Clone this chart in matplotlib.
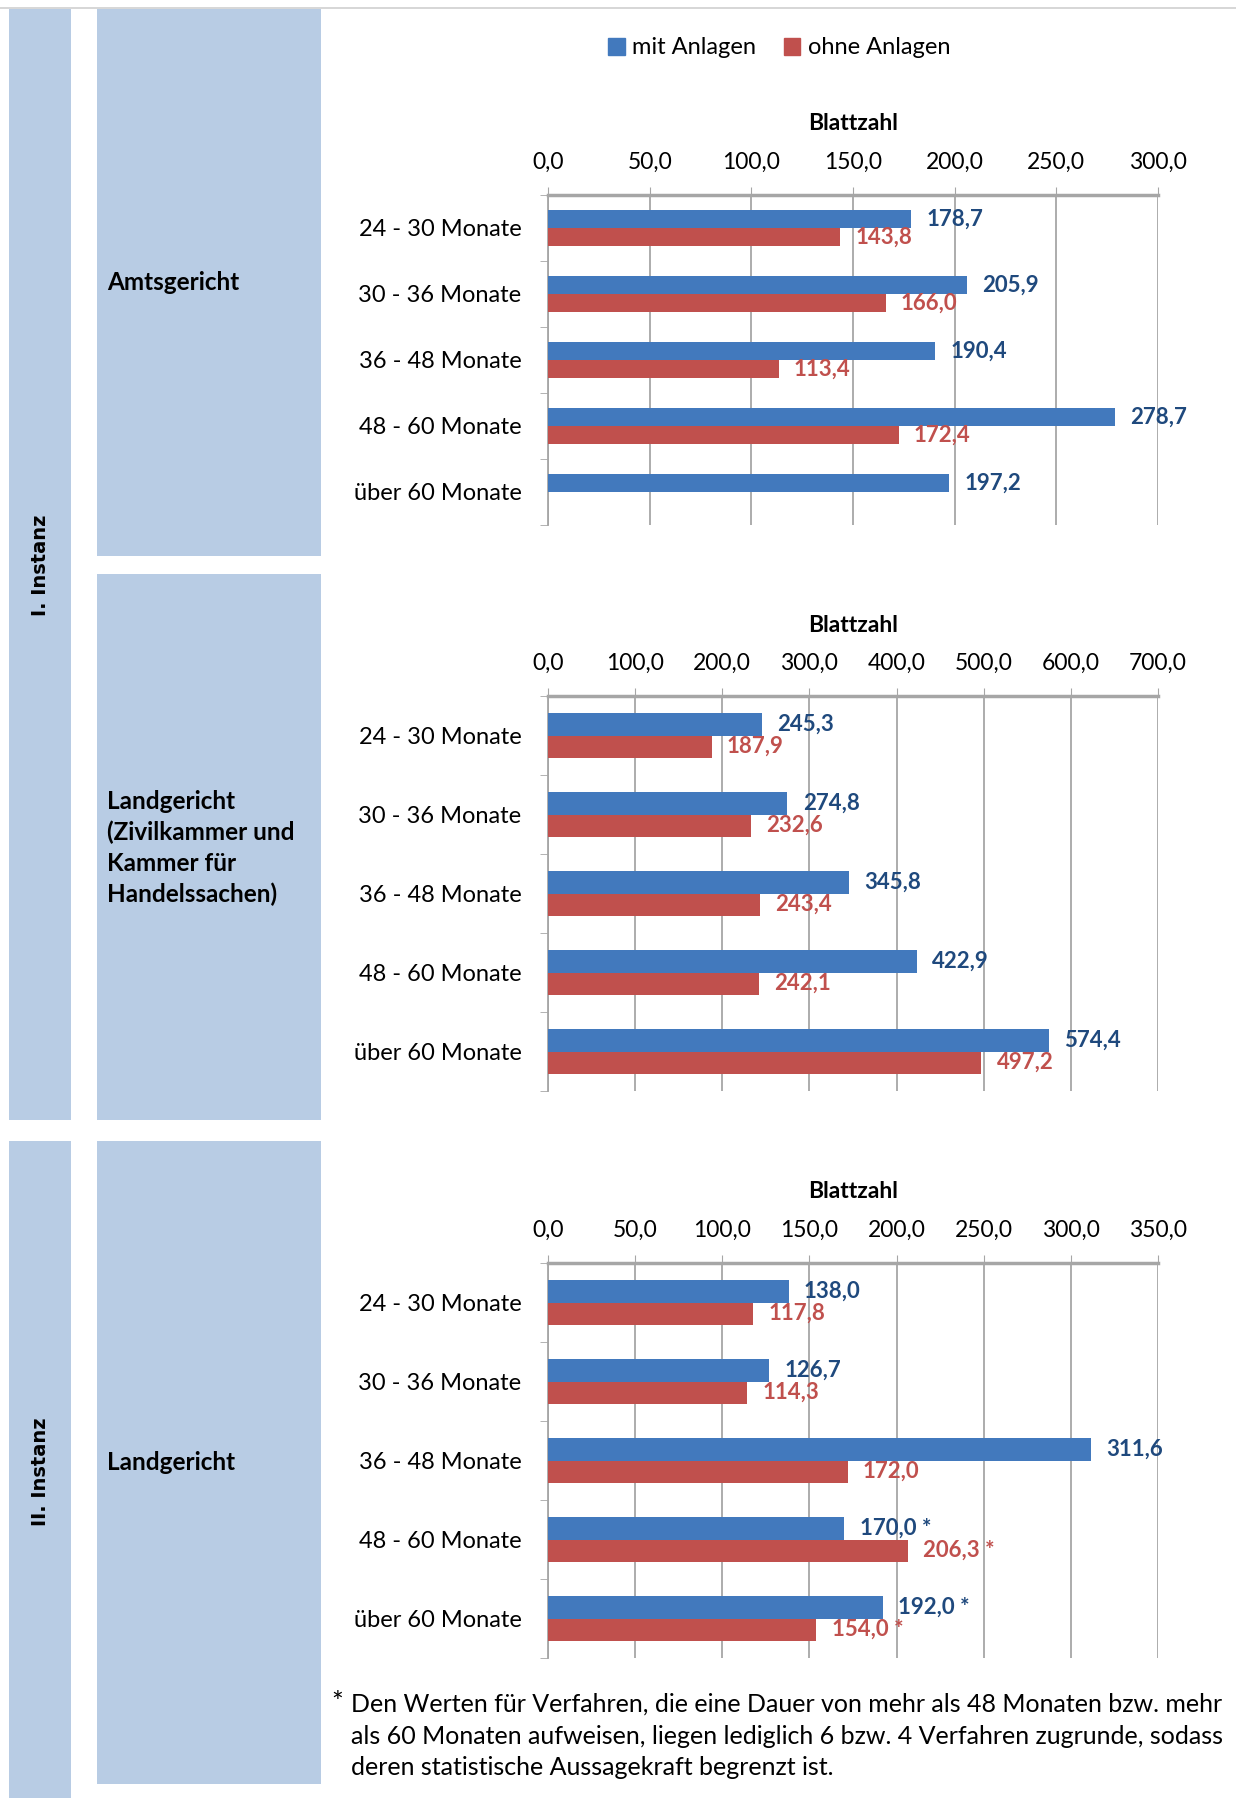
import numpy as np
import matplotlib.pyplot as plt
from matplotlib.patches import Rectangle, Patch

plt.rcParams['font.family'] = ['Lato', 'DejaVu Sans']

# data
categories = ["24 - 30 Monate", "30 - 36 Monate", "36 - 48 Monate", "48 - 60 Monate", "über 60 Monate"]

ag_mit = [178.7, 205.9, 190.4, 278.7, 197.2]
ag_ohne = [143.8, 166.0, 113.4, 172.4, np.nan]

lg1_mit = [245.3, 274.8, 345.8, 422.9, 574.4]
lg1_ohne = [187.9, 232.6, 243.4, 242.1, 497.2]

lg2_mit = [138.0, 126.7, 311.6, 170.0, 192.0]
lg2_ohne = [117.8, 114.3, 172.0, 206.3, 154.0]
lg2_star = [False, False, False, True, True]

no_star = [False] * 5

W, H = 1236, 1798
BLUE = "#4279bd"
RED = "#c0504d"
BLUE_TXT = "#1f497d"
RED_TXT = "#c0504d"
BOX = "#b8cce4"
GRID = "#a6a6a6"

fig = plt.figure(figsize=(W / 100, H / 100), dpi=100)

# background layer in pixel coordinates
bg = fig.add_axes([0, 0, 1, 1])
bg.set_xlim(0, W)
bg.set_ylim(H, 0)
bg.axis("off")
bg.plot([0, W], [8, 8], color="#d0d0d0", lw=1.2)
for x0, x1, y0, y1 in [(9, 71, 9, 1120), (9, 71, 1141, 1798),
                       (97, 321, 9, 556), (97, 321, 574, 1120), (97, 321, 1141, 1784)]:
    bg.add_patch(Rectangle((x0, y0), x1 - x0, y1 - y0, color=BOX, lw=0))

bg.text(41, 565, "I. Instanz", rotation=90, ha="center", va="center",
        fontsize=14, fontweight="bold", family="DejaVu Sans")
bg.text(41, 1472, "II. Instanz", rotation=90, ha="center", va="center",
        fontsize=14, fontweight="bold", family="DejaVu Sans")
bg.text(107, 283, "Amtsgericht", ha="left", va="center", fontsize=17.5, fontweight="bold")
bg.text(107, 848, "Landgericht\n(Zivilkammer und\nKammer für\nHandelssachen)", ha="left", va="center",
        fontsize=17.5, fontweight="bold", linespacing=1.4)
bg.text(107, 1463, "Landgericht", ha="left", va="center", fontsize=17.5, fontweight="bold")

bg.text(331, 1704, "*", ha="left", va="center", fontsize=20)
bg.text(351, 1736, "Den Werten für Verfahren, die eine Dauer von mehr als 48 Monaten bzw. mehr\n"
        "als 60 Monaten aufweisen, liegen lediglich 6 bzw. 4 Verfahren zugrunde, sodass\n"
        "deren statistische Aussagekraft begrenzt ist.",
        ha="left", va="center", fontsize=18, linespacing=1.45)


def fmt(v):
    return f"{v:.1f}".replace(".", ",")


def bar_panel(top, bottom, mit, ohne, xmax, step, stars, title_y):
    x0, x1 = 548, 1158
    ax = fig.add_axes([x0 / W, 1 - bottom / H, (x1 - x0) / W, (bottom - top) / H])
    y = np.arange(len(categories))
    h = 0.28
    ax.barh(y - h / 2, mit, height=h, color=BLUE, zorder=3)
    ax.barh(y + h / 2, ohne, height=h, color=RED, zorder=3)
    off = xmax * 0.025
    for i in range(len(categories)):
        s = " *" if stars[i] else ""
        if not np.isnan(mit[i]):
            ax.text(mit[i] + off, y[i] - h / 2, fmt(mit[i]) + s, color=BLUE_TXT,
                    fontsize=16, fontweight="bold", va="center", ha="left", zorder=4)
        if not np.isnan(ohne[i]):
            ax.text(ohne[i] + off, y[i] + h / 2, fmt(ohne[i]) + s, color=RED_TXT,
                    fontsize=16, fontweight="bold", va="center", ha="left", zorder=4)
    ax.set_xlim(0, xmax)
    ax.set_ylim(len(categories) - 0.5, -0.5)
    ticks = np.arange(0, xmax + step / 2, step)
    ax.set_xticks(ticks)
    ax.set_xticklabels([fmt(t) for t in ticks], fontsize=16.5)
    ax.xaxis.tick_top()
    ax.tick_params(axis="x", length=6, color=GRID, pad=10)
    ax.set_yticks(y)
    ax.set_yticklabels(categories, fontsize=17)
    ax.set_yticks(np.arange(-0.5, len(categories)), minor=True)
    ax.tick_params(axis="y", which="major", length=0, pad=19)
    ax.tick_params(axis="y", which="minor", length=6, color=GRID)
    ax.grid(axis="x", color=GRID, lw=1.3, zorder=0)
    for s in ["right", "bottom"]:
        ax.spines[s].set_visible(False)
    ax.spines["top"].set_color(GRID)
    ax.spines["top"].set_linewidth(2.5)
    ax.spines["left"].set_color(GRID)
    ax.spines["left"].set_linewidth(1.3)
    ax.set_facecolor("none")
    bg.text((x0 + x1) / 2, title_y, "Blattzahl", ha="center", va="center",
            fontsize=16.5, fontweight="bold")
    return ax


bar_panel(195, 525, ag_mit, ag_ohne, 300, 50, no_star, 124)
bar_panel(696, 1091, lg1_mit, lg1_ohne, 700, 100, no_star, 626)
bar_panel(1263, 1658, lg2_mit, lg2_ohne, 350, 50, lg2_star, 1191)

handles = [Patch(color=BLUE, label="mit Anlagen"), Patch(color=RED, label="ohne Anlagen")]
fig.legend(handles=handles, loc="center", bbox_to_anchor=(779 / W, 1 - 48 / H), ncol=2,
           frameon=False, fontsize=17, handlelength=0.7, handleheight=0.7,
           handletextpad=0.3, columnspacing=1.2)

fig.savefig("out.png", dpi=100)
